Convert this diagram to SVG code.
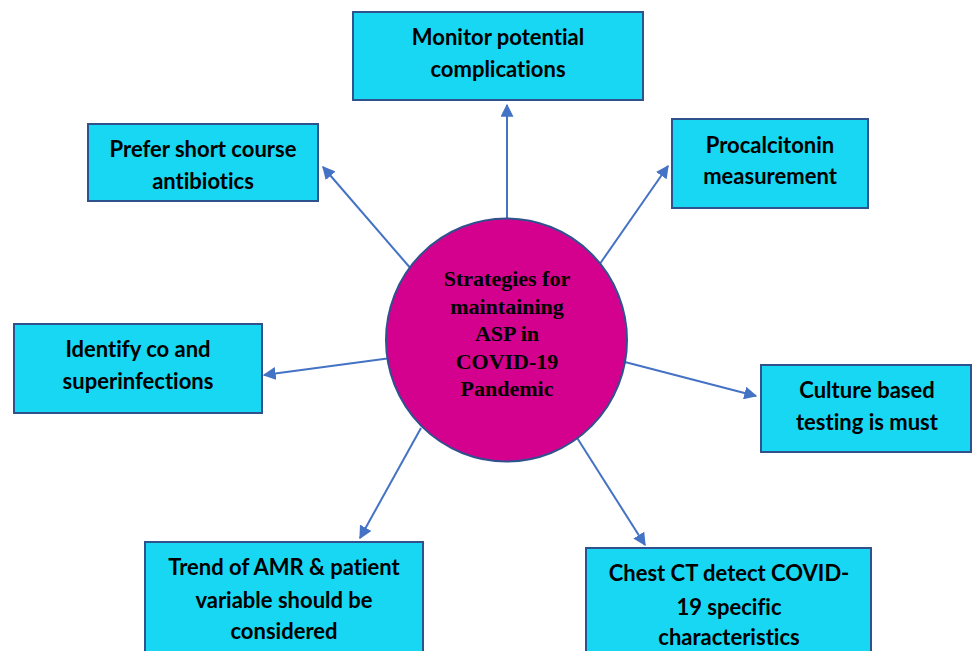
<svg xmlns="http://www.w3.org/2000/svg" width="972" height="651" viewBox="0 0 972 651">
<defs>
<style>
.box{fill:#17D7F2;stroke:#2F528F;stroke-width:2}
.lbl{font-family:Lato,"Liberation Sans",sans-serif;font-weight:bold;font-size:22px;fill:#000;text-anchor:middle;font-variant-ligatures:none}
.ctr{font-family:"Liberation Serif","Times New Roman",serif;font-weight:bold;font-size:22px;fill:#000;text-anchor:middle}
.con{stroke:#4472C4;stroke-width:2;fill:none;marker-end:url(#ah)}
</style>
<marker id="ah" viewBox="0 0 10 10" refX="9" refY="5" markerWidth="6.5" markerHeight="6.5" markerUnits="strokeWidth" orient="auto">
<path d="M0,0 L10,5 L0,10 Z" fill="#4472C4"/>
</marker>
</defs>
<rect width="972" height="651" fill="#fff"/>
<g id="connectors">
<line class="con" x1="507" y1="220" x2="507" y2="105"/>
<line class="con" x1="412" y1="270" x2="323" y2="167"/>
<line class="con" x1="597" y1="268" x2="668" y2="166"/>
<line class="con" x1="391" y1="358" x2="264" y2="375"/>
<line class="con" x1="621" y1="361" x2="756" y2="396"/>
<line class="con" x1="421" y1="428" x2="360" y2="538"/>
<line class="con" x1="574" y1="433" x2="645" y2="545"/>
</g>
<g id="center">
<ellipse cx="506.5" cy="340" rx="120.5" ry="121.5" fill="#D4008E" stroke="#2F528F" stroke-width="2"/>
<text class="ctr" x="507" y="286">Strategies for</text>
<text class="ctr" x="507" y="313.5">maintaining</text>
<text class="ctr" x="507" y="341">ASP in</text>
<text class="ctr" x="507" y="368.5">COVID-19</text>
<text class="ctr" x="507" y="396">Pandemic</text>
</g>
<g id="monitor">
<rect class="box" x="353" y="12" width="290" height="88"/>
<text class="lbl" x="498" y="44.5">Monitor potential</text>
<text class="lbl" x="498" y="76.5">complications</text>
</g>
<g id="prefer">
<rect class="box" x="88" y="124" width="230" height="77"/>
<text class="lbl" x="203" y="156.5">Prefer short course</text>
<text class="lbl" x="203" y="188.5">antibiotics</text>
</g>
<g id="procalcitonin">
<rect class="box" x="672" y="119" width="196" height="89"/>
<text class="lbl" x="770" y="152.5">Procalcitonin</text>
<text class="lbl" x="770" y="183.5">measurement</text>
</g>
<g id="identify">
<rect class="box" x="14" y="324" width="248" height="89"/>
<text class="lbl" x="138" y="356.5">Identify co and</text>
<text class="lbl" x="138" y="388.5">superinfections</text>
</g>
<g id="culture">
<rect class="box" x="761" y="365" width="210" height="87"/>
<text class="lbl" x="867" y="397.5">Culture based</text>
<text class="lbl" x="867" y="429.5">testing is must</text>
</g>
<g id="trend">
<rect class="box" x="145" y="542" width="278" height="120"/>
<text class="lbl" x="284" y="574.5">Trend of AMR &amp; patient</text>
<text class="lbl" x="284" y="607.5">variable should be</text>
<text class="lbl" x="284" y="638.5">considered</text>
</g>
<g id="chest">
<rect class="box" x="586" y="548" width="285" height="114"/>
<text class="lbl" x="729" y="580.5">Chest CT detect COVID-</text>
<text class="lbl" x="729" y="614.5">19 specific</text>
<text class="lbl" x="729" y="644.5">characteristics</text>
</g>
</svg>
